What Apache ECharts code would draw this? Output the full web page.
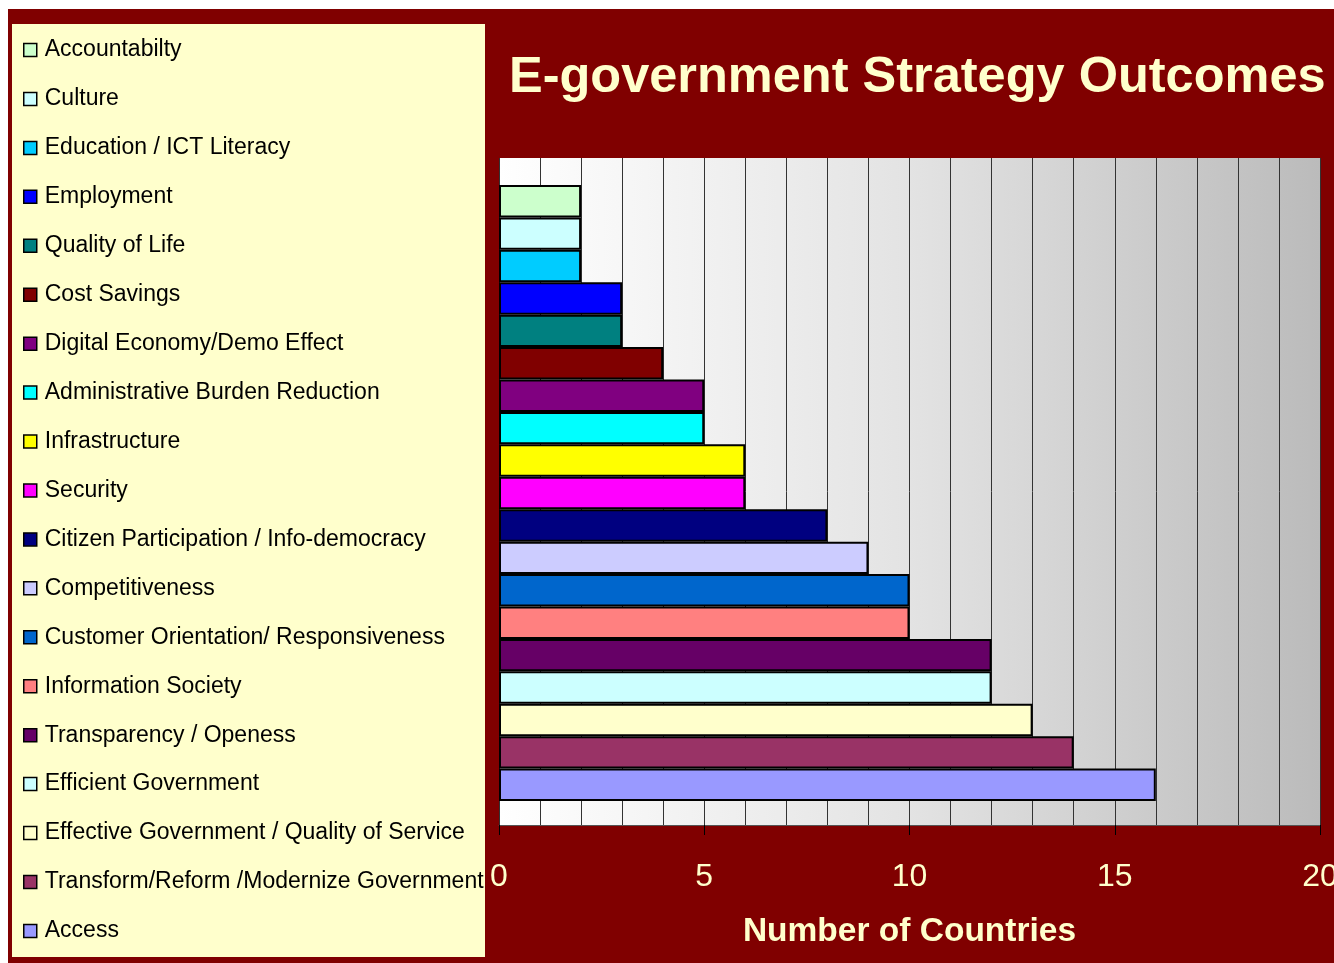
<!DOCTYPE html>
<html><head><meta charset="utf-8">
<script src="https://cdn.jsdelivr.net/npm/echarts@6/dist/echarts.min.js"></script>
<style>html,body{margin:0;padding:0;background:#fff}#c{width:1334px;height:963px}</style>
</head><body><div id="c"></div>
<script>
const categories = [
  'Accountabilty', 'Culture', 'Education / ICT Literacy', 'Employment', 'Quality of Life',
  'Cost Savings', 'Digital Economy/Demo Effect', 'Administrative Burden Reduction', 'Infrastructure',
  'Security', 'Citizen Participation / Info-democracy', 'Competitiveness',
  'Customer Orientation/ Responsiveness', 'Information Society', 'Transparency / Openess',
  'Efficient Government', 'Effective Government / Quality of Service',
  'Transform/Reform /Modernize Government', 'Access'
];
const values = [2, 2, 2, 3, 3, 4, 5, 5, 6, 6, 8, 9, 10, 10, 12, 12, 13, 14, 16];
const colors = [
  '#CCFFCC', '#CCFFFF', '#00CCFF', '#0000FF', '#008080',
  '#800000', '#800080', '#00FFFF', '#FFFF00', '#FF00FF',
  '#000080', '#CCCCFF', '#0066CC', '#FF8080', '#660066',
  '#CCFFFF', '#FFFFCC', '#993366', '#9999FF'
];
const xMin = 0, xMax = 20, xInterval = 5;

const FONT = '"Liberation Sans", Arial, sans-serif';
const chart = echarts.init(document.getElementById('c'), null, {renderer: 'canvas'});

const series = categories.map((name, i) => ({
  type: 'bar',
  name: name,
  xAxisIndex: 1,
  yAxisIndex: 1,
  stack: 'all',
  barWidth: '100%',
  data: categories.map((c, j) => (j === i ? values[i] : '-')),
  itemStyle: {color: colors[i], borderColor: '#000', borderWidth: 2},
  emphasis: {disabled: true},
  animation: false
}));

chart.setOption({
  backgroundColor: '#ffffff',
  animation: false,
  graphic: [
    {type: 'rect', z: -10, shape: {x: 8, y: 9, width: 1326, height: 954}, style: {fill: '#800000'}},
    {type: 'rect', z: -9, shape: {x: 12, y: 24, width: 473, height: 933}, style: {fill: '#FFFFCC'}}
  ],
  title: {
    text: 'E-government Strategy Outcomes',
    left: 504, top: 48,
    textStyle: {color: '#FFFFCC', fontSize: 50.5, fontWeight: 'bold', fontFamily: FONT, lineHeight: 50}
  },
  legend: {
    orient: 'vertical',
    left: 23, top: 38,
    padding: 0,
    itemWidth: 13, itemHeight: 13,
    itemGap: 24.94,
    selectedMode: false,
    icon: 'rect',
    itemStyle: {borderColor: '#000', borderWidth: 1.5},
    textStyle: {color: '#000', fontSize: 23, fontFamily: FONT, lineHeight: 24, padding: [0, 0, 0, 3]},
    data: categories
  },
  grid: [
    {left: 499, right: 14, top: 158, bottom: 138, show: true, borderWidth: 0,
     outerBoundsMode: 'none', containLabel: false,
     backgroundColor: new echarts.graphic.LinearGradient(0, 0, 1, 0, [
       {offset: 0, color: '#FFFFFF'}, {offset: 0.5, color: '#E3E3E3'}, {offset: 1, color: '#BBBBBB'}
     ])},
    {left: 499, right: 14, top: 185, bottom: 162, outerBoundsMode: 'none', containLabel: false}
  ],
  xAxis: [
    {gridIndex: 0, type: 'value', min: xMin, max: xMax, interval: xInterval,
     axisLine: {show: true, lineStyle: {color: '#555', width: 1}},
     axisTick: {show: true, length: 10, lineStyle: {color: '#000', width: 1}},
     axisLabel: {color: '#FFFFCC', fontSize: 32, fontFamily: FONT, margin: 36},
     splitLine: {show: true, lineStyle: {color: '#333', width: 1}},
     minorTick: {show: false, splitNumber: 5},
     minorSplitLine: {show: true, lineStyle: {color: '#333', width: 1}},
     name: 'Number of Countries', nameLocation: 'middle', nameGap: 90,
     nameTextStyle: {color: '#FFFFCC', fontSize: 33.5, fontWeight: 'bold', fontFamily: FONT}
    },
    {gridIndex: 1, type: 'value', min: xMin, max: xMax, show: false, splitLine: {show: false}}
  ],
  yAxis: [
    {gridIndex: 0, type: 'category', data: categories, show: false},
    {gridIndex: 1, type: 'category', data: categories, inverse: true, show: false}
  ],
  series: series
});
</script>
</body></html>
